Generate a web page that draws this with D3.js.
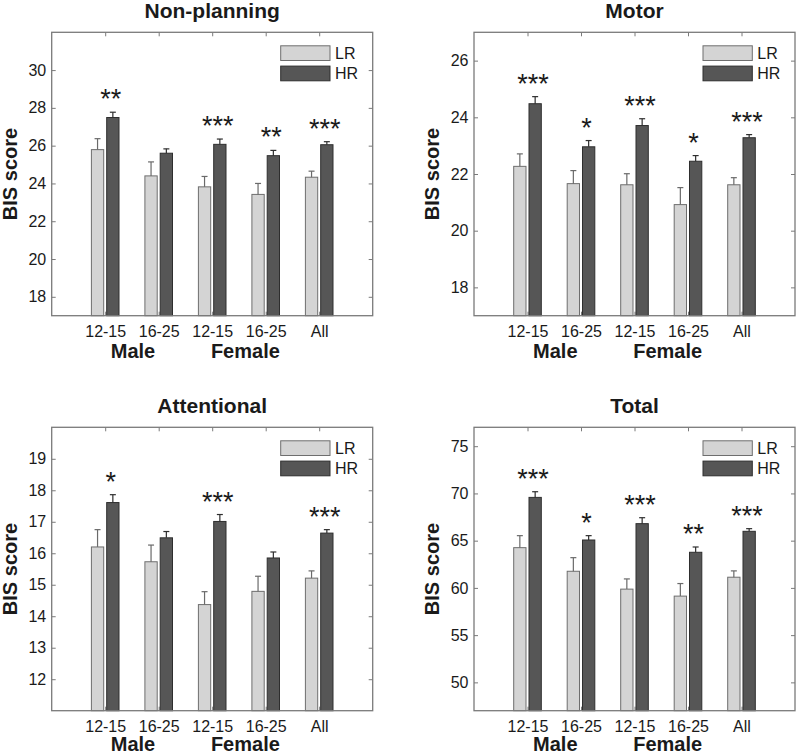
<!DOCTYPE html>
<html><head><meta charset="utf-8">
<script src="https://cdn.jsdelivr.net/npm/d3@7"></script>
<style>
body{margin:0;background:#fff}
svg text{font-family:"Liberation Sans",Arial,Helvetica,sans-serif;fill:#1a1a1a}
</style>
</head><body>
<svg id="chart" width="798" height="756"></svg>
<script>
// ---------- data ----------
const categories = ["12-15", "16-25", "12-15", "16-25", "All"];
const groupLabels = ["Male", "Female"];
const seriesNames = ["LR", "HR"];
const panelTitles = ["Non-planning", "Motor", "Attentional", "Total"];
const yAxisLabel = "BIS score";

const lrNonPlanning    = [25.79, 24.40, 23.82, 23.42, 24.33];
const lrErrNonPlanning = [0.58, 0.74, 0.55, 0.58, 0.32];
const hrNonPlanning    = [27.49, 25.60, 26.07, 25.47, 26.05];
const hrErrNonPlanning = [0.28, 0.23, 0.28, 0.28, 0.16];
const starsNonPlanning = ["**", "", "***", "**", "***"];
const domainNonPlanning = [17, 32];
const ticksNonPlanning  = [18, 20, 22, 24, 26, 28, 30];

const lrMotor    = [22.27, 21.66, 21.62, 20.92, 21.62];
const lrErrMotor = [0.44, 0.46, 0.39, 0.60, 0.25];
const hrMotor    = [24.48, 22.96, 23.71, 22.45, 23.28];
const hrErrMotor = [0.25, 0.22, 0.24, 0.20, 0.11];
const starsMotor = ["***", "*", "***", "*", "***"];
const domainMotor = [17, 27];
const ticksMotor  = [18, 20, 22, 24, 26];

const lrAttentional    = [16.20, 15.73, 14.37, 14.79, 15.21];
const lrErrAttentional = [0.55, 0.53, 0.41, 0.48, 0.23];
const hrAttentional    = [17.61, 16.49, 17.01, 15.85, 16.64];
const hrErrAttentional = [0.25, 0.20, 0.22, 0.19, 0.11];
const starsAttentional = ["*", "", "***", "", "***"];
const domainAttentional = [11, 20];
const ticksAttentional  = [12, 13, 14, 15, 16, 17, 18, 19];

const lrTotal    = [64.26, 61.76, 59.87, 59.13, 61.13];
const lrErrTotal = [1.27, 1.44, 1.08, 1.33, 0.67];
const hrTotal    = [69.58, 65.07, 66.80, 63.77, 65.99];
const hrErrTotal = [0.60, 0.46, 0.63, 0.56, 0.28];
const starsTotal = ["***", "*", "***", "**", "***"];
const domainTotal = [47, 77];
const ticksTotal  = [50, 55, 60, 65, 70, 75];

const panels = [
  {title: panelTitles[0], lr: lrNonPlanning, lrErr: lrErrNonPlanning, hr: hrNonPlanning, hrErr: hrErrNonPlanning, stars: starsNonPlanning, domain: domainNonPlanning, ticks: ticksNonPlanning},
  {title: panelTitles[1], lr: lrMotor, lrErr: lrErrMotor, hr: hrMotor, hrErr: hrErrMotor, stars: starsMotor, domain: domainMotor, ticks: ticksMotor},
  {title: panelTitles[2], lr: lrAttentional, lrErr: lrErrAttentional, hr: hrAttentional, hrErr: hrErrAttentional, stars: starsAttentional, domain: domainAttentional, ticks: ticksAttentional},
  {title: panelTitles[3], lr: lrTotal, lrErr: lrErrTotal, hr: hrTotal, hrErr: hrErrTotal, stars: starsTotal, domain: domainTotal, ticks: ticksTotal}
];

// ---------- layout / style ----------
const lefts = [51.7, 474];
const tops = [32.3, 427.3];
const groupLabelGap = [42, 40];
const W = 321, H = 283.4;
const axisColor = "#7a7a7a";
const lrFill = "#d4d4d4", lrStroke = "#6e6e6e";
const hrFill = "#565656", hrStroke = "#2e2e2e";
const barOffset = 0.143, barWidth = 0.23;
const groupPos = [1.52, 3.62];

const svg = d3.select("#chart");

panels.forEach((p, i) => {
  const row = Math.floor(i / 2);
  const L = lefts[i % 2], T = tops[row];
  const x = d3.scaleLinear().domain([0, 6]).range([L, L + W]);
  const y = d3.scaleLinear().domain(p.domain).range([T + H, T]);
  const g = svg.append("g");

  // axes (ticks inward)
  const styleAxis = sel => {
    sel.select(".domain").remove();
    sel.selectAll(".tick line").attr("stroke", axisColor).attr("stroke-width", 1);
    sel.selectAll(".tick text").style("font-size", "16px").attr("fill", "#1a1a1a");
  };
  g.append("g").attr("transform", `translate(${L},0)`)
    .call(d3.axisLeft(y).tickValues(p.ticks).tickSizeInner(-4).tickSizeOuter(0).tickPadding(5.5))
    .call(styleAxis);
  g.append("g").attr("transform", `translate(${L + W},0)`)
    .call(d3.axisRight(y).tickValues(p.ticks).tickSizeInner(-4).tickSizeOuter(0).tickFormat(""))
    .call(styleAxis);
  g.append("g").attr("transform", `translate(0,${T})`)
    .call(d3.axisTop(x).tickValues([1, 2, 3, 4, 5]).tickSizeInner(-4).tickSizeOuter(0).tickFormat(""))
    .call(styleAxis);
  g.append("g").attr("transform", `translate(0,${T + H})`)
    .call(d3.axisBottom(x).tickValues([1, 2, 3, 4, 5]).tickSizeInner(-4).tickSizeOuter(0)
      .tickPadding(9.5).tickFormat((d, k) => categories[k]))
    .call(styleAxis);

  const bw = x(barWidth) - x(0);
  const series = [
    {vals: p.lr, errs: p.lrErr, off: -barOffset, fill: lrFill, stroke: lrStroke, ecol: "#6a6a6a"},
    {vals: p.hr, errs: p.hrErr, off: barOffset, fill: hrFill, stroke: hrStroke, ecol: "#2e2e2e"}
  ];
  series.forEach(s => {
    const data = s.vals.map((v, k) => ({v, e: s.errs[k], c: k + 1 + s.off}));
    g.selectAll(null).data(data).enter().append("rect")
      .attr("x", d => x(d.c) - bw / 2).attr("width", bw)
      .attr("y", d => y(d.v)).attr("height", d => y(p.domain[0]) - y(d.v))
      .attr("fill", s.fill).attr("stroke", s.stroke).attr("stroke-width", 1);
    g.selectAll(null).data(data).enter().append("line")
      .attr("x1", d => x(d.c)).attr("x2", d => x(d.c))
      .attr("y1", d => y(d.v)).attr("y2", d => y(d.v + d.e))
      .attr("stroke", s.ecol).attr("stroke-width", 1.2);
    g.selectAll(null).data(data).enter().append("line")
      .attr("x1", d => x(d.c) - 3).attr("x2", d => x(d.c) + 3)
      .attr("y1", d => y(d.v + d.e)).attr("y2", d => y(d.v + d.e))
      .attr("stroke", s.ecol).attr("stroke-width", 1.2);
  });

  // significance stars
  g.selectAll(null).data(p.stars.map((s, k) => ({s, k}))).enter().append("text")
    .attr("x", d => x(d.k + 1) + 5.5)
    .attr("y", d => y(p.hr[d.k] + p.hrErr[d.k]) - 4)
    .attr("text-anchor", "middle").style("font-size", "27px")
    .text(d => d.s);

  // box
  g.append("rect").attr("x", L).attr("y", T).attr("width", W).attr("height", H)
    .attr("fill", "none").attr("stroke", axisColor).attr("stroke-width", 1.3);

  // title
  g.append("text").attr("x", x(3)).attr("y", T - 14).attr("text-anchor", "middle")
    .style("font-size", "21px").style("font-weight", "bold").text(p.title);

  // y label
  g.append("text").attr("transform", `translate(${L - 35},${T + H / 2}) rotate(-90)`)
    .attr("text-anchor", "middle").style("font-size", "20px").style("font-weight", "bold")
    .text(yAxisLabel);

  // group labels
  groupLabels.forEach((lab, k) => {
    g.append("text").attr("x", x(groupPos[k])).attr("y", T + H + groupLabelGap[row]).attr("text-anchor", "middle")
      .style("font-size", "20px").style("font-weight", "bold").text(lab);
  });

  // legend
  const lx = x(6) - 92, ly = T + 13.5;
  [[lrFill, lrStroke], [hrFill, hrStroke]].forEach((c, k) => {
    g.append("rect").attr("x", lx).attr("y", ly + k * 20.3).attr("width", 49.3).attr("height", 14.7)
      .attr("fill", c[0]).attr("stroke", c[1]).attr("stroke-width", 1);
    g.append("text").attr("x", lx + 49.3 + 5).attr("y", ly + k * 20.3 + 7.35 + 6)
      .style("font-size", "16px").text(seriesNames[k]);
  });
});
</script>
</body></html>
